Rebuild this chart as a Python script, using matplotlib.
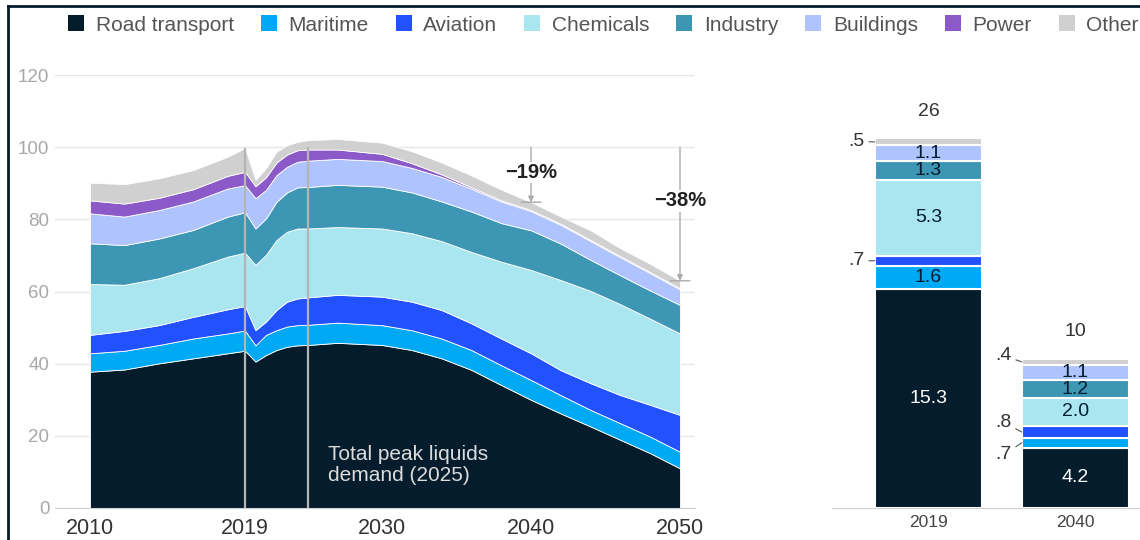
import matplotlib
matplotlib.use('Agg')
import matplotlib.pyplot as plt
import numpy as np
from matplotlib.patches import Patch
from matplotlib.lines import Line2D

plt.rcParams['font.family'] = ['Liberation Sans', 'DejaVu Sans']

# ---- data: liquids demand by sector (stacked area) ----
years = [2010, 2012, 2014, 2016, 2018, 2019, 2020, 2021, 2022, 2023, 2024, 2025,
         2027, 2030, 2032, 2034, 2036, 2038, 2040, 2042, 2044, 2046, 2048, 2050]
road = [37.8, 38.4, 40.1, 41.5, 42.9, 43.6, 40.6, 42.4, 43.8, 44.7, 45.1, 45.2,
        45.8, 45.2, 43.8, 41.5, 38.3, 34.1, 30.0, 26.2, 22.6, 18.9, 15.2, 11.0]
maritime = [5.1, 5.2, 5.1, 5.5, 5.5, 5.6, 4.5, 5.6, 5.5, 5.6, 5.6, 5.6,
            5.6, 5.5, 5.5, 5.5, 5.5, 5.5, 5.5, 5.1, 4.6, 4.6, 4.6, 4.6]
aviation = [5.1, 5.5, 5.5, 6.0, 6.7, 6.8, 4.2, 3.7, 5.6, 6.9, 7.4, 7.6,
            7.7, 7.9, 7.9, 7.9, 7.4, 7.4, 7.4, 6.9, 7.4, 7.8, 8.8, 10.2]
chemicals = [14.1, 12.8, 13.0, 13.5, 14.6, 14.8, 18.1, 18.5, 19.4, 19.4, 19.4, 19.1,
             18.8, 18.9, 19.0, 19.1, 19.8, 21.3, 23.1, 25.0, 25.6, 25.2, 23.9, 22.6]
industry = [11.3, 11.0, 11.0, 10.6, 11.1, 11.2, 10.1, 10.1, 10.6, 10.9, 11.4, 11.5,
            11.7, 11.6, 11.3, 11.0, 11.2, 10.7, 11.0, 10.1, 8.6, 8.0, 7.8, 7.9]
buildings = [8.3, 7.9, 7.9, 7.9, 7.8, 7.5, 8.4, 7.9, 7.4, 7.1, 7.1, 7.3,
             7.2, 7.1, 6.8, 6.8, 6.3, 6.0, 5.3, 5.2, 5.2, 5.0, 4.8, 4.3]
power = [3.6, 3.6, 3.4, 3.4, 3.5, 3.7, 3.3, 3.5, 3.5, 3.4, 3.2, 3.1,
         2.6, 2.0, 1.3, 0.7, 0.4, 0.3, 0.3, 0.3, 0.3, 0.3, 0.3, 0.3]
other = [4.9, 5.4, 5.4, 5.3, 5.3, 6.6, 1.8, 2.5, 3.0, 2.6, 2.3, 2.6,
         2.9, 3.1, 3.3, 3.3, 3.3, 3.0, 2.2, 2.0, 2.7, 2.2, 2.3, 2.1]

labels = ['Road transport', 'Maritime', 'Aviation', 'Chemicals', 'Industry',
          'Buildings', 'Power', 'Other']
colors = ['#051c2c', '#00a9f4', '#2251ff', '#aae6f0', '#3c96b4',
          '#afc3ff', '#8c5ac8', '#d0d0d0']

xticks = [2010, 2019, 2030, 2040, 2050]
yticks = [0, 20, 40, 60, 80, 100, 120]
peak_year = 2025
# (year, label, height of the label)
drops = [(2040, '\u221219%', 93), (2050, '\u221238%', 85.2)]

# ---- data: bars (2019 vs 2040) ----
bar_years = ['2019', '2040']
bar_road = [15.3, 4.2]
bar_maritime = [1.6, 0.7]
bar_aviation = [0.7, 0.8]
bar_chemicals = [5.3, 2.0]
bar_industry = [1.3, 1.2]
bar_buildings = [1.1, 1.1]
bar_other = [0.5, 0.4]
bar_totals = ['26', '10']

W, H = 1140, 540
fig = plt.figure(figsize=(W / 100, H / 100), dpi=100)

# piecewise year axis, as in the original artwork
yr_anchor = [1990, 2010, 2019, 2025, 2030, 2040, 2050, 2070]
px_anchor = [90 - 20 * 17.2, 90, 245, 308, 382, 531, 680, 680 + 20 * 14.9]


def fwd(x):
    return np.interp(x, yr_anchor, px_anchor)


def inv(p):
    return np.interp(p, px_anchor, yr_anchor)


ax = fig.add_axes([55 / W, 32 / H, 640 / W, 432.8 / H])
ax.set_xscale('function', functions=(fwd, inv))
series = [road, maritime, aviation, chemicals, industry, buildings, power, other]
ax.stackplot(years, *series, colors=colors, edgecolor='white', linewidth=0.6, zorder=2)
ax.set_xlim(inv(55), inv(695))
ax.set_ylim(0, 120)

ax.set_yticks(yticks)
ax.set_xticks(xticks)
ax.set_xticklabels([str(x) for x in xticks])
ax.xaxis.set_minor_locator(matplotlib.ticker.NullLocator())
ax.grid(axis='y', color='#e6e6e6', lw=1, zorder=0)
ax.set_axisbelow(True)
for s in ['top', 'right', 'left']:
    ax.spines[s].set_visible(False)
ax.spines['bottom'].set_color('#d0d0d0')
ax.tick_params(axis='y', length=0, pad=4, labelsize=13.5, labelcolor='#a8a8a8')
ax.tick_params(axis='x', length=0, pad=7, labelsize=15.5, labelcolor='#333333')

totals = np.sum(series, axis=0)
tot = dict(zip(years, totals))
ax.vlines([2019, peak_year], 0, [tot[2019], 100],
          color='#b4b4b4', lw=1.6, zorder=3)

for yr, txt, ty in drops:
    ax.annotate('', xy=(yr, tot[yr]), xytext=(yr, 100),
                arrowprops=dict(arrowstyle='-|>', color='#aaaaaa', lw=1,
                                mutation_scale=8, shrinkA=0, shrinkB=0), zorder=4)
    ax.annotate('', xy=(yr, tot[yr]), xytext=(-10, 0), textcoords='offset pixels',
                arrowprops=dict(arrowstyle='-', color='#aaaaaa', lw=1,
                                shrinkA=0, shrinkB=0))
    ax.annotate('', xy=(yr, tot[yr]), xytext=(10, 0), textcoords='offset pixels',
                arrowprops=dict(arrowstyle='-', color='#aaaaaa', lw=1,
                                shrinkA=0, shrinkB=0))
    ax.text(yr, ty, txt, ha='center', va='center',
            fontsize=14.5, fontweight='bold', color='#222222', zorder=5,
            bbox=dict(facecolor='white', edgecolor='none', pad=1))

ax.annotate('Total peak liquids\ndemand (2025)', xy=(peak_year, 11.9),
            xytext=(20, 0), textcoords='offset pixels', ha='left', va='center',
            fontsize=15, color='#dcdcdc', linespacing=1.15, zorder=5)

# ---- right: stacked bars ----
bx = fig.add_axes([832 / W, 32 / H, 308 / W, 432.8 / H])
bar_series = [bar_road, bar_maritime, bar_aviation, bar_chemicals, bar_industry,
              bar_buildings, bar_other]
bar_colors = [colors[i] for i in [0, 1, 2, 3, 4, 5, 7]]
text_colors = ['white', '#051c2c', '#051c2c', '#051c2c', '#051c2c', '#051c2c', '#051c2c']
xpos = np.arange(len(bar_years))
bw = 0.73
bottom = np.zeros(len(bar_years))
# offsets (px) for the small outside labels: (bar index, series index) -> dy
side_dy = {(1, 6): 6, (1, 2): 10, (1, 1): -12}
for k, (vals, col) in enumerate(zip(bar_series, bar_colors)):
    vals = np.array(vals)
    bx.bar(xpos, vals, bw, bottom=bottom, color=col, edgecolor='white', linewidth=1.5)
    for i, v in enumerate(vals):
        mid = bottom[i] + v / 2
        if v >= 1:
            bx.text(xpos[i], mid, f'{v:.1f}', ha='center', va='center',
                    fontsize=14, color=text_colors[k])
        else:
            dy = side_dy.get((i, k), 0)
            bx.annotate(f'{v:.1f}'.lstrip('0'), xy=(xpos[i] - bw / 2, mid),
                        xytext=(-10, dy), textcoords='offset pixels',
                        ha='right', va='center', fontsize=14, color='#333333',
                        arrowprops=dict(arrowstyle='-', color='#555555', lw=0.8,
                                        shrinkA=1, shrinkB=0))
    bottom += vals

for i, t in enumerate(bar_totals):
    bx.annotate(t, xy=(xpos[i], bottom[i]), xytext=(0, 27), textcoords='offset pixels',
                ha='center', va='center', fontsize=14, color='#333333')

bx.set_xlim(-0.656, 1.439)
bx.set_ylim(0, 30.2)
bx.set_xticks(xpos)
bx.set_xticklabels(bar_years)
bx.set_yticks([])
for s in ['top', 'right', 'left']:
    bx.spines[s].set_visible(False)
bx.spines['bottom'].set_color('#d0d0d0')
bx.tick_params(axis='x', length=0, pad=5, labelsize=12.5, labelcolor='#444444')

# ---- legend ----
handles = [Patch(facecolor=c, edgecolor='none') for c in colors]
fig.legend(handles, labels, loc='center left', bbox_to_anchor=(68 / W, 1 - 25 / H),
           ncol=8, frameon=False, fontsize=15, labelcolor='#555555',
           handlelength=0.77, handleheight=0.77, handletextpad=0.55,
           columnspacing=1.3, borderpad=0, borderaxespad=0)

# navy frame on the left and top edges
fig.add_artist(Line2D([8 / W, 8 / W], [0, 1 - 6 / H], transform=fig.transFigure,
                      color='#051c2c', lw=2))
fig.add_artist(Line2D([8 / W, 1], [1 - 6 / H, 1 - 6 / H], transform=fig.transFigure,
                      color='#051c2c', lw=2))

fig.savefig('out.png', dpi=100)
